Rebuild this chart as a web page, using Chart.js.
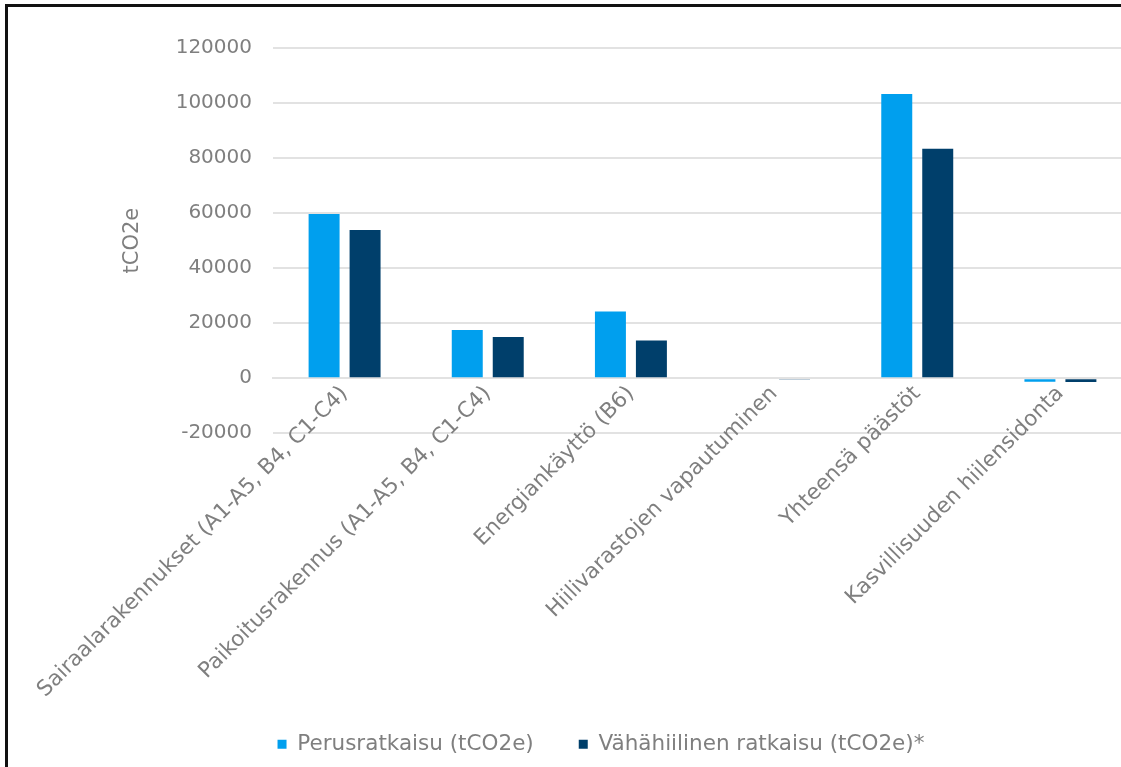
<!DOCTYPE html>
<html><head><meta charset="utf-8">
<script src="https://cdn.jsdelivr.net/npm/chart.js@4.4.1/dist/chart.umd.min.js"></script>
<style>
html,body{margin:0;padding:0;background:#fff;overflow:hidden;width:1121px;height:767px;}
#box{position:relative;width:1121px;height:767px;overflow:hidden;background:#fff;}
#wrap{position:absolute;left:0;top:0;width:1132px;height:767px;}
.edge{position:absolute;background:#111;pointer-events:none;}
#edgeTop{left:5px;top:4px;width:1116px;height:3px;}
#edgeLeft{left:5px;top:4px;width:3px;height:763px;}
</style></head><body>
<div id="box">
<div id="wrap"><canvas id="c" width="1132" height="767"></canvas></div>
<div class="edge" id="edgeTop"></div>
<div class="edge" id="edgeLeft"></div>
</div>
<script>
const categories = [
  'Sairaalarakennukset (A1-A5, B4, C1-C4)',
  'Paikoitusrakennus (A1-A5, B4, C1-C4)',
  'Energiankäyttö (B6)',
  'Hiilivarastojen vapautuminen',
  'Yhteensä päästöt',
  'Kasvillisuuden hiilensidonta'
];
const seriesNames = ['Perusratkaisu (tCO2e)', 'Vähähiilinen ratkaisu (tCO2e)*'];
const perusValues = [59700, 17500, 24200, -400, 103300, -1300];
const vahahiilinenValues = [53900, 15000, 13700, -300, 83400, -1400];
const yTickValues = [-20000, 0, 20000, 40000, 60000, 80000, 100000, 120000];
const yAxisTitle = 'tCO2e';

const GREY = '#7f7f7f';
const FONT = 'DejaVu Sans';
const PAD_LEFT = 70;

new Chart(document.getElementById('c'), {
  type: 'bar',
  data: {
    labels: categories,
    datasets: [
      { label: seriesNames[0], data: perusValues, backgroundColor: '#009FEE' },
      { label: seriesNames[1], data: vahahiilinenValues, backgroundColor: '#003F6B' }
    ]
  },
  options: {
    responsive: false,
    animation: false,
    devicePixelRatio: 1,
    datasets: { bar: { categoryPercentage: 0.5725, barPercentage: 0.756 } },
    layout: { padding: { left: PAD_LEFT, top: 48, right: 0, bottom: 2 } },
    plugins: {
      tooltip: { enabled: false },
      legend: {
        position: 'bottom',
        title: { display: true, text: '', padding: { top: 240.85, bottom: 0 }, font: { size: 12 } },
        labels: {
          boxWidth: 9, boxHeight: 9, padding: 45,
          color: GREY, font: { family: FONT, size: 21.5 }
        }
      }
    },
    scales: {
      x: {
        position: { y: 0 },
        grid: { display: false, drawTicks: false },
        border: { display: true, color: '#e2e2e2', width: 2 },
        ticks: {
          minRotation: 45, maxRotation: 45, autoSkip: false, padding: 3,
          color: GREY, font: { family: FONT, size: 21.5 }
        }
      },
      y: {
        min: yTickValues[0],
        max: yTickValues[yTickValues.length - 1],
        afterBuildTicks: (s) => { s.ticks = yTickValues.map(v => ({ value: v })); },
        afterFit: (s) => { s.width = 273 - PAD_LEFT; },
        grid: { color: '#e2e2e2', lineWidth: 2, drawTicks: false },
        border: { display: false },
        ticks: {
          padding: 21, color: GREY, font: { family: FONT, size: 20 },
          callback: (v) => String(v)
        },
        title: {
          display: true, text: yAxisTitle, color: GREY,
          font: { family: FONT, size: 21, weight: 'normal' },
          padding: { top: 133 - PAD_LEFT - 12.6, bottom: 0 }
        }
      }
    }
  }
});
</script>
</body></html>
